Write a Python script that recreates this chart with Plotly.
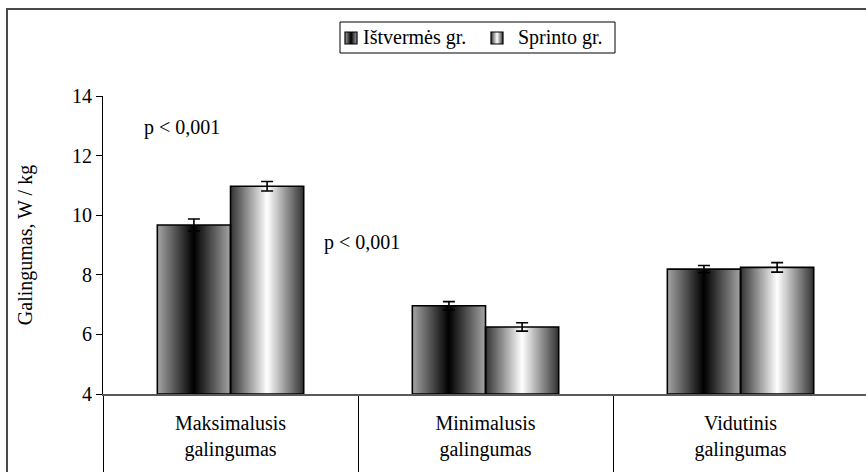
import plotly.graph_objects as go

# Power per kg body mass, two athlete groups
categories = ["Maksimalusis<br>galingumas", "Minimalusis<br>galingumas", "Vidutinis<br>galingumas"]
endurance = [9.67, 6.96, 8.19]
endurance_err = [0.20, 0.14, 0.12]
sprint = [10.97, 6.25, 8.25]
sprint_err = [0.16, 0.14, 0.16]
series_names = ["Ištvermės gr.", "Sprinto gr."]
p_labels = ["p < 0,001", "p < 0,001"]

W, H = 866, 472
ML, MR, MT, MB = 103, 0, 96, 78
PW, PH = W - ML - MR, H - MT - MB
FONT = "Liberation Serif"
FS = 20

BAR_W = 0.287          # bar width in category units
N_SLICES = 60          # vertical strips used to build the shading


def px_x(px):
    return (px - ML) / PW


def px_y(py):
    return (H - MB - py) / PH


def shade_dark_center(t):
    # grey at the edges, black in the middle
    v = int(round(165 * abs(2 * t - 1)))
    return f"rgb({v},{v},{v})"


def shade_light_center(t):
    # dark at the edges, white in the middle
    v = int(round(255 - 205 * abs(2 * t - 1)))
    return f"rgb({v},{v},{v})"


groups = [
    (endurance, endurance_err, -BAR_W, shade_dark_center),
    (sprint, sprint_err, 0.0, shade_light_center),
]

fig = go.Figure()
slice_w = BAR_W / N_SLICES
for values, errs, base_off, shade in groups:
    for k in range(N_SLICES):
        t = (k + 0.5) / N_SLICES
        w = slice_w * 2.0 if k < N_SLICES - 1 else slice_w
        fig.add_trace(go.Bar(
            x=categories, y=[v - 4 for v in values], base=4,
            offset=base_off + k * slice_w, width=w,
            marker=dict(color=shade(t), line=dict(width=0)),
            showlegend=False, hoverinfo="skip",
        ))

# outlines and error bars on top of the shaded strips
for (values, errs, base_off, shade), name in zip(groups, series_names):
    fig.add_trace(go.Bar(
        x=categories, y=[v - 4 for v in values], base=4,
        offset=base_off, width=BAR_W, name=name,
        marker=dict(color="rgba(0,0,0,0)", line=dict(color="black", width=1.6)),
        error_y=dict(type="data", array=errs, visible=True,
                     color="black", thickness=1.6, width=6),
        showlegend=False,
    ))

shapes = []
# outer frame (right/bottom sides fall outside the page)
shapes.append(dict(type="rect", xref="paper", yref="paper",
                   x0=px_x(7), x1=px_x(W + 20), y0=px_y(H + 20), y1=px_y(9),
                   line=dict(color="#4a4a4a", width=2), layer="above"))

# legend box with shaded keys
lg_x0, lg_x1, lg_y0, lg_y1 = 340, 615, 22, 53
shapes.append(dict(type="rect", xref="paper", yref="paper",
                   x0=px_x(lg_x0), x1=px_x(lg_x1), y0=px_y(lg_y1), y1=px_y(lg_y0),
                   line=dict(color="black", width=1), fillcolor="white", layer="above"))
key_left = [345, 491]
key_size = 12
key_top = 32
n_key = 12
for kx, (_, _, _, shade) in zip(key_left, groups):
    for k in range(n_key):
        t = (k + 0.5) / n_key
        x0 = kx + k * key_size / n_key
        x1 = x0 + key_size / n_key * (1.5 if k < n_key - 1 else 1.0)
        shapes.append(dict(type="rect", xref="paper", yref="paper",
                           x0=px_x(x0), x1=px_x(x1),
                           y0=px_y(key_top + key_size), y1=px_y(key_top),
                           line=dict(width=0), fillcolor=shade(t), layer="above"))
    shapes.append(dict(type="rect", xref="paper", yref="paper",
                       x0=px_x(kx), x1=px_x(kx + key_size),
                       y0=px_y(key_top + key_size), y1=px_y(key_top),
                       line=dict(color="black", width=1.2), layer="above"))

annotations = []
for kx, name in zip([361, 516], series_names):
    annotations.append(dict(x=px_x(kx), y=px_y(38), xref="paper", yref="paper",
                            text=name, showarrow=False, xanchor="left", yanchor="middle",
                            font=dict(family=FONT, size=FS, color="black")))

# significance labels
annotations.append(dict(x=-0.19, y=12.93, xref="x", yref="y", text=p_labels[0],
                        showarrow=False, font=dict(family=FONT, size=FS, color="black")))
annotations.append(dict(x=0.516, y=9.1, xref="x", yref="y", text=p_labels[1],
                        showarrow=False, font=dict(family=FONT, size=FS, color="black")))

fig.update_layout(
    width=W, height=H,
    margin=dict(l=ML, r=MR, t=MT, b=MB, autoexpand=False),
    paper_bgcolor="white", plot_bgcolor="white",
    barmode="overlay",
    showlegend=False,
    shapes=shapes,
    annotations=annotations,
    font=dict(family=FONT, size=FS, color="black"),
    xaxis=dict(
        type="category", range=[-0.5, 2.492],
        showline=True, linecolor="#5a5a5a", linewidth=1.5,
        ticks="outside", tickson="boundaries", ticklen=MB, tickcolor="black", tickwidth=1,
        ticklabelstandoff=10,
        showgrid=False, zeroline=False,
        tickfont=dict(family=FONT, size=FS, color="black"),
    ),
    yaxis=dict(
        range=[4, 14], dtick=2, tick0=4,
        showline=True, linecolor="black", linewidth=1,
        ticks="outside", ticklen=6, tickcolor="black", tickwidth=1,
        showgrid=False, zeroline=False,
        tickfont=dict(family=FONT, size=FS, color="black"),
        title=dict(text="Galingumas, W / kg", standoff=34,
                   font=dict(family=FONT, size=FS, color="black")),
    ),
)

fig.write_html("out.html")
